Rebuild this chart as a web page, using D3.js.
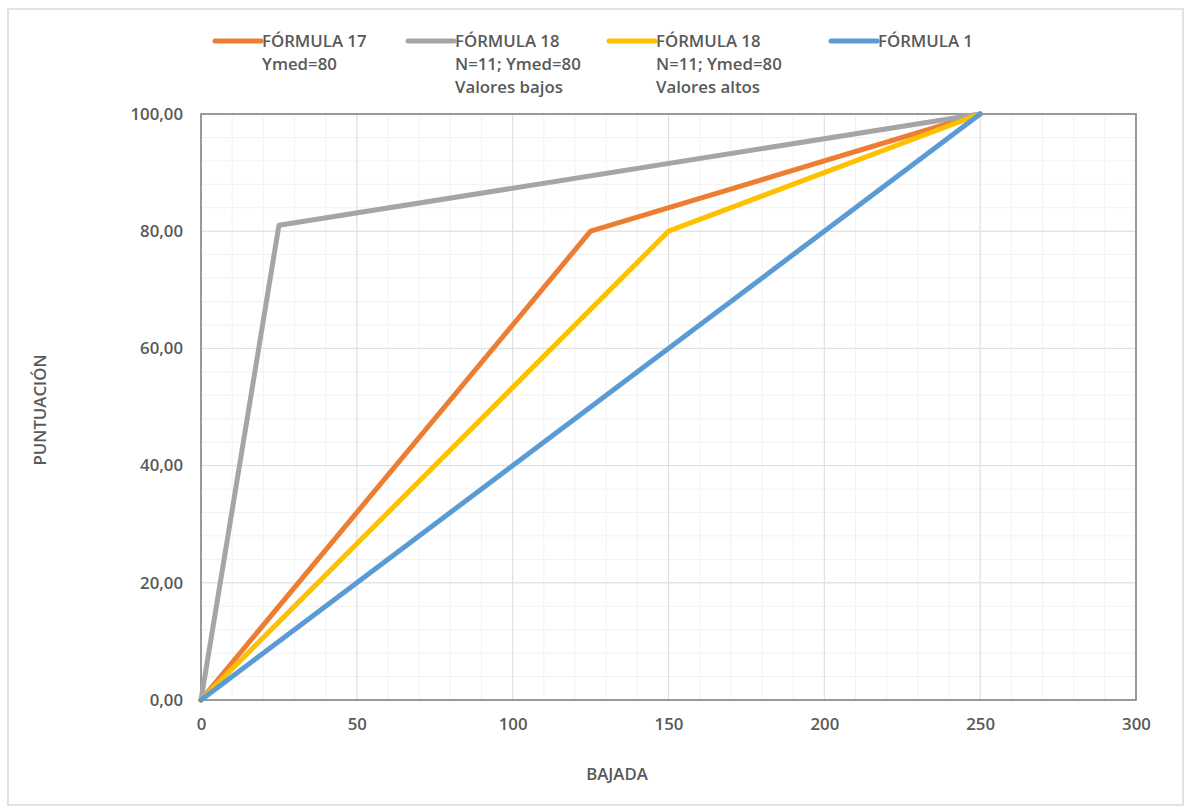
<!DOCTYPE html>
<html><head><meta charset="utf-8">
<script src="https://cdn.jsdelivr.net/npm/d3@7"></script>
<style>
html,body{margin:0;padding:0;background:#fff;}
svg{display:block;}
text{font-family:"Open Sans",Lato,sans-serif;font-weight:600;fill:#595959;}
</style></head>
<body>
<svg id="chart" width="1186" height="807"></svg>
<script>
// ---- data ----
const seriesNames = ["FÓRMULA 17", "FÓRMULA 18", "FÓRMULA 18", "FÓRMULA 1"];
const seriesSub = [["Ymed=80"], ["N=11; Ymed=80", "Valores bajos"], ["N=11; Ymed=80", "Valores altos"], []];
const seriesColors = ["#ED7D31", "#A5A5A5", "#FFC000", "#5B9BD5"];
const f17X = [0, 125, 250];
const f17Y = [0, 80, 100];
const f18bajosX = [0, 25, 250];
const f18bajosY = [0, 81, 100];
const f18altosX = [0, 150, 250];
const f18altosY = [0, 80, 100];
const f1X = [0, 250];
const f1Y = [0, 100];
const xTicks = [0, 50, 100, 150, 200, 250, 300];
const yTicks = [0, 20, 40, 60, 80, 100];
const xTitle = "BAJADA";
const yTitle = "PUNTUACIÓN";

const seriesData = [[f17X, f17Y], [f18bajosX, f18bajosY], [f18altosX, f18altosY], [f1X, f1Y]];

// ---- layout ----
const svg = d3.select("#chart");
const plot = {left: 201, right: 1136, top: 114, bottom: 700};
const FS = "16.8px";

svg.append("rect").attr("x", 8).attr("y", 9).attr("width", 1175).attr("height", 796)
  .attr("fill", "#fff").attr("stroke", "#e3e3e3").attr("stroke-width", 2);

const x = d3.scaleLinear().domain([0, 300]).range([plot.left, plot.right]);
const y = d3.scaleLinear().domain([0, 100]).range([plot.bottom, plot.top]);

const loc = d3.formatLocale({decimal: ",", thousands: ".", grouping: [3], currency: ["", "€"]});
const fmtY = loc.format(".2f");

// minor grid
const g = svg.append("g");
g.selectAll(".vminor").data(d3.range(0, 301, 10)).join("line")
  .attr("x1", d => x(d)).attr("x2", d => x(d)).attr("y1", plot.top).attr("y2", plot.bottom)
  .attr("stroke", "#f2f2f2").attr("stroke-width", 1);
g.selectAll(".hminor").data(d3.range(0, 101, 4)).join("line")
  .attr("y1", d => y(d)).attr("y2", d => y(d)).attr("x1", plot.left).attr("x2", plot.right)
  .attr("stroke", "#f2f2f2").attr("stroke-width", 1);
// major grid
g.selectAll(".vmajor").data(xTicks).join("line")
  .attr("x1", d => x(d)).attr("x2", d => x(d)).attr("y1", plot.top).attr("y2", plot.bottom)
  .attr("stroke", "#dedede").attr("stroke-width", 1);
g.selectAll(".hmajor").data(yTicks).join("line")
  .attr("y1", d => y(d)).attr("y2", d => y(d)).attr("x1", plot.left).attr("x2", plot.right)
  .attr("stroke", "#dedede").attr("stroke-width", 1);

// axes
const xAxis = svg.append("g").attr("transform", `translate(0,${plot.bottom})`)
  .call(d3.axisBottom(x).tickValues(xTicks).tickSize(0).tickPadding(18).tickFormat(d3.format("d")));
const yAxis = svg.append("g").attr("transform", `translate(${plot.left},0)`)
  .call(d3.axisLeft(y).tickValues(yTicks).tickSize(0).tickPadding(18).tickFormat(fmtY));
[xAxis, yAxis].forEach(a => {
  a.select(".domain").remove();
  a.selectAll("text").style("font-size", FS).style("font-family", "'Open Sans', sans-serif")
    .style("font-weight", 600).attr("fill", "#595959");
});

// plot border
svg.append("rect").attr("x", plot.left).attr("y", plot.top)
  .attr("width", plot.right - plot.left).attr("height", plot.bottom - plot.top)
  .attr("fill", "none").attr("stroke", "#858585").attr("stroke-width", 1.6);

// lines
const line = d3.line().x(d => x(d[0])).y(d => y(d[1]));
seriesData.forEach((s, i) => {
  const pts = s[0].map((v, k) => [v, s[1][k]]);
  svg.append("path").datum(pts).attr("d", line)
    .attr("fill", "none").attr("stroke", seriesColors[i]).attr("stroke-width", 5)
    .attr("stroke-linejoin", "round").attr("stroke-linecap", "round");
});

// axis titles
svg.append("text").attr("x", 617).attr("y", 780)
  .attr("text-anchor", "middle").style("font-size", FS).text(xTitle);
svg.append("text").attr("transform", "translate(46,410) rotate(-90)")
  .attr("text-anchor", "middle").style("font-size", FS).text(yTitle);

// legend
const legX = [215, 408, 609, 831];
seriesNames.forEach((n, i) => {
  const lg = svg.append("g").attr("transform", `translate(${legX[i]},0)`);
  lg.append("line").attr("x1", 0).attr("x2", 46).attr("y1", 41).attr("y2", 41)
    .attr("stroke", seriesColors[i]).attr("stroke-width", 5).attr("stroke-linecap", "round");
  lg.append("text").attr("x", 47).attr("y", 47).style("font-size", FS).text(n);
  seriesSub[i].forEach((t, k) => {
    lg.append("text").attr("x", 47).attr("y", 70 + k * 23).style("font-size", FS).text(t);
  });
});
</script>
</body></html>
